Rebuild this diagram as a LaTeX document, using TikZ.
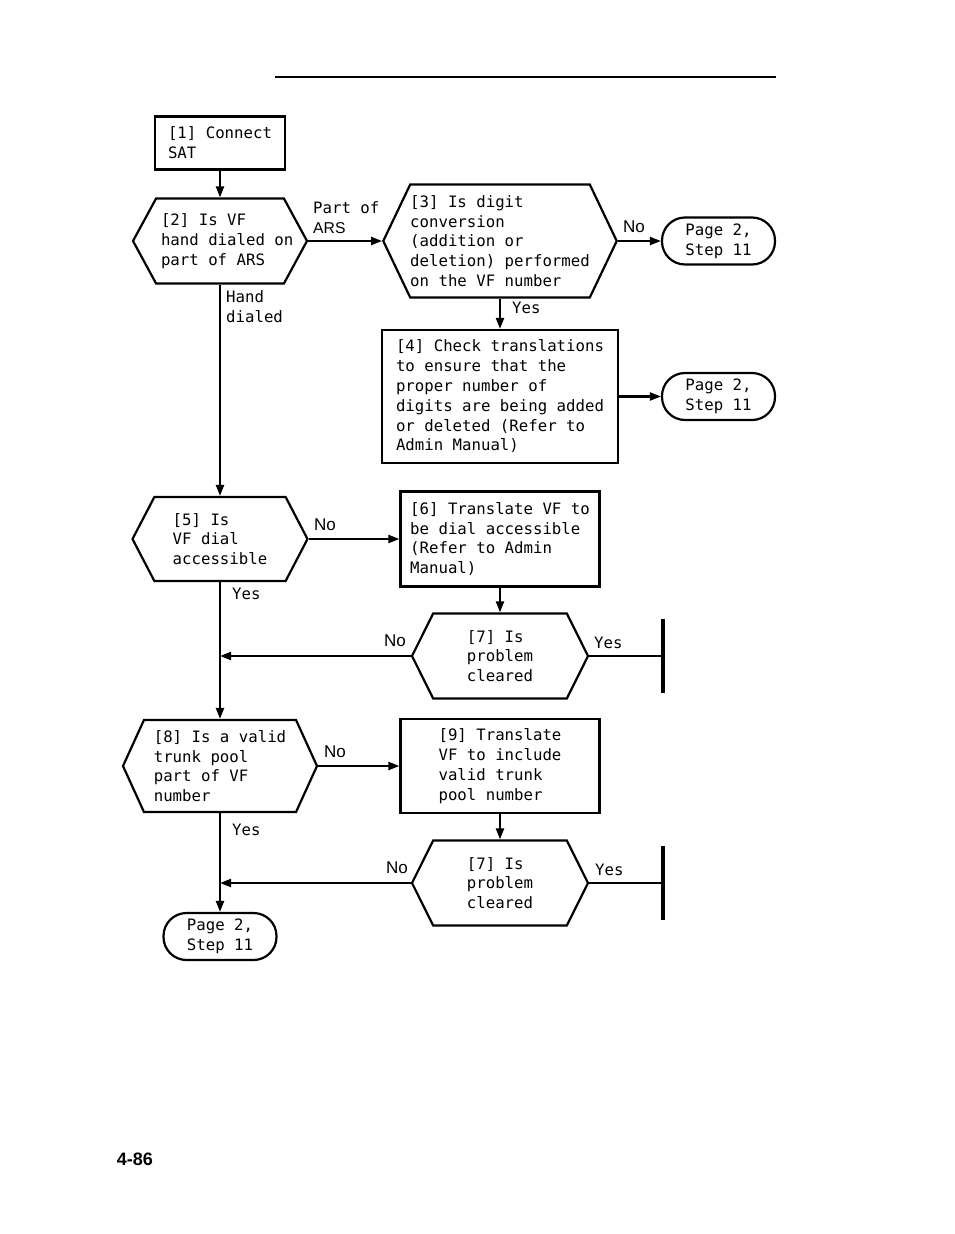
\documentclass[tikz,border=0pt]{standalone}
\usepackage{fontspec}
\newfontfamily\typew{DejaVu Sans Mono}
\newfontfamily\labelfont{Liberation Sans}
\usetikzlibrary{shapes.symbols,arrows.meta,calc}
\begin{document}
\begin{tikzpicture}[x=1pt,y=-1pt,
  every node/.style={font=\typew\fontsize{15.7}{19.8}\selectfont},
  box/.style={draw,line width=2.2pt,rectangle,align=left,inner sep=0pt},
  hexa/.style={draw,line width=2.2pt,shape=signal,signal to=east and west,align=left,inner sep=0pt},
  termin/.style={draw,line width=2.2pt,rectangle,rounded corners=23pt,align=left,inner sep=0pt,minimum width=113pt,minimum height=47pt},
  flow/.style={line width=2.2pt,-{Triangle[length=11pt,width=8pt]}},
  ans/.style={font=\labelfont\fontsize{17}{20}\selectfont,anchor=west,inner sep=0pt},
  yes/.style={anchor=west,inner sep=0pt}]
\useasboundingbox (0,0) rectangle (954,1234);
\path[draw,line width=2.2pt] (275,77) -- (776,77);
% boxes and questions
\node[box,minimum width=130pt,minimum height=53pt] (b1) at (220,143) {[1] Connect\\SAT};
\node[hexa,minimum width=174pt,minimum height=85pt,signal pointer angle=123] (h2) at (220,241) {[2] Is VF\\\makebox[118pt][l]{hand dialed on}\\part of ARS};
\node[hexa,minimum width=233pt,minimum height=113pt,signal pointer angle=129] (h3) at (500,241) {[3] Is digit\\conversion\\(addition or\\deletion) performed\\on the VF number};
\node[termin] (t1) at (718.5,241) {Page 2,\\Step 11};
\node[box,minimum width=236pt,minimum height=133pt] (b4) at (500,396.5) {[4] Check translations\\to ensure that the\\proper number of\\digits are being added\\or deleted (Refer to\\Admin Manual)};
\node[termin] (t2) at (718.5,396.5) {Page 2,\\Step 11};
\node[hexa,minimum width=175pt,minimum height=84pt,signal pointer angle=125] (h5) at (220,539) {[5] Is\\VF dial\\accessible};
\node[box,minimum width=199pt,minimum height=95pt] (b6) at (500,539) {[6] Translate VF to\\be dial accessible\\(Refer to Admin\\Manual)};
\node[hexa,minimum width=176pt,minimum height=85pt,signal pointer angle=127] (c1) at (500,656) {[7] Is\\problem\\cleared};
\node[hexa,minimum width=194pt,minimum height=92pt,signal pointer angle=131] (h8) at (220,766) {[8] Is a valid\\trunk pool\\part of VF\\number};
\node[box,minimum width=199pt,minimum height=94pt] (b9) at (500,766) {[9] Translate\\VF to include\\valid trunk\\pool number};
\node[hexa,minimum width=176pt,minimum height=85pt,signal pointer angle=127] (c2) at (500,883) {[7] Is\\problem\\cleared};
\node[termin] (t3) at (220,936.5) {Page 2,\\Step 11};
% connectors
\path[draw,flow] (b1.south) -- (h2.north);
\path[draw,flow] (h2.east) -- (h3.west);
\path[draw,flow] (h3.east) -- (t1.west);
\path[draw,flow] (h3.south) -- (b4.north);
\path[draw,flow] (b4.east) -- (t2.west);
\path[draw,flow] (h2.south) -- (h5.north);
\path[draw,flow] (h5.east) -- (b6.west);
\path[draw,flow] (b6.south) -- (c1.north);
\path[draw,flow] (c1.west) -- (c1.west -| h5.south);
\path[draw,flow] (h5.south) -- (h8.north);
\path[draw,flow] (h8.east) -- (b9.west);
\path[draw,flow] (b9.south) -- (c2.north);
\path[draw,flow] (c2.west) -- (c2.west -| h8.south);
\path[draw,flow] (h8.south) -- (t3.north);
% end bars
\path[draw,line width=2.2pt] (c1.east) -- ++(74,0) coordinate (e1);
\path[draw,line width=4pt] ($(e1)+(0,-37)$) -- ($(e1)+(0,37)$);
\path[draw,line width=2.2pt] (c2.east) -- ++(74,0) coordinate (e2);
\path[draw,line width=4pt] ($(e2)+(0,-37)$) -- ($(e2)+(0,37)$);
% labels
\node[yes,align=left] (l1) at (313,218) {Part of\\{\labelfont ARS}};
\node[ans] (l2) at (623,227) {No};
\node[yes] (l3) at (512,308) {Yes};
\node[yes,align=left] (l4) at (226,307) {Hand\\dialed};
\node[ans] (l5) at (314,525) {No};
\node[yes] (l6) at (232,594) {Yes};
\node[ans] (l7) at (384,641) {No};
\node[yes] (l8) at (594,643) {Yes};
\node[ans] (l9) at (324,752) {No};
\node[yes] (l10) at (232,830) {Yes};
\node[ans] (l11) at (386,868) {No};
\node[yes] (l12) at (595,870) {Yes};
\node[font=\labelfont\bfseries\fontsize{18}{20}\selectfont] (pg) at (135,1159) {4-86};
\end{tikzpicture}
\end{document}
